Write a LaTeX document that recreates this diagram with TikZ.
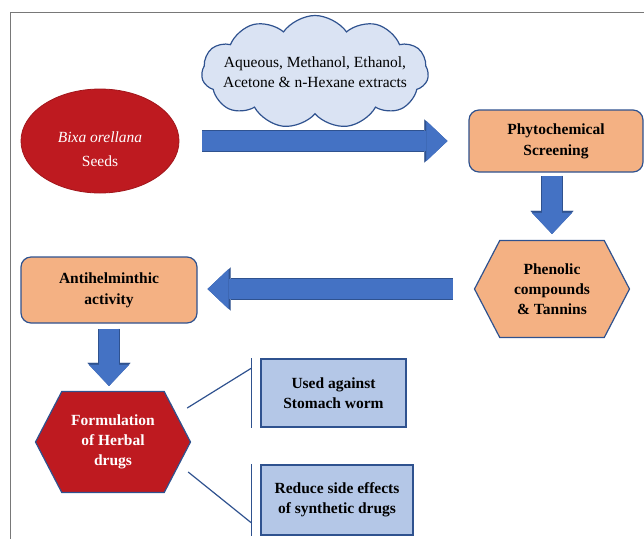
\documentclass[tikz,border=0pt]{standalone}
\usepackage{fontspec}
\setmainfont{Liberation Serif}
\usetikzlibrary{positioning, calc, shapes.geometric, shapes.symbols, arrows.meta}
\definecolor{edgeblue}{RGB}{47,82,143}
\definecolor{arrowfill}{RGB}{68,114,196}
\definecolor{cloudfill}{RGB}{218,227,243}
\definecolor{seedred}{RGB}{190,26,32}
\definecolor{boxorange}{RGB}{244,177,131}
\definecolor{useblue}{RGB}{180,199,231}
\definecolor{framegray}{RGB}{120,120,120}
\tikzstyle{BlockArrow} = [
%Create block arrow style:
line width=20pt, draw=arrowfill,
-{Triangle[width=40pt, length=21pt, line width=0.1pt]},
preaction = {draw=edgeblue, line width=22pt, -{Triangle[width=43pt, length=23pt, line width=0.1pt]}}
]

\begin{document}
\begin{tikzpicture}[x=1pt, y=-1pt,
      every node/.style = {font=\fontsize{15.5}{20}\selectfont, align=center},
      cloudnode/.style = {cloud, cloud puffs=11, cloud puff arc=110, cloud ignores aspect, draw=edgeblue, line width=1.2pt, fill=cloudfill, minimum width=227pt, minimum height=113pt, inner xsep=-30pt, inner ysep=-15pt},
      seednode/.style = {ellipse, fill=seedred, draw=seedred!85!black, line width=0.8pt, text=white, minimum width=158pt, minimum height=104pt},
      stepbox/.style = {rectangle, rounded corners=10pt, draw=edgeblue, line width=1.2pt, fill=boxorange, font=\bfseries\fontsize{15.5}{21}\selectfont},
      hexnode/.style = {signal, signal to=east and west, signal pointer angle=125, draw=edgeblue, line width=1.2pt, inner sep=0pt, font=\bfseries\fontsize{15.5}{20}\selectfont},
      usebox/.style = {rectangle, draw=edgeblue, line width=1.5pt, fill=useblue, font=\bfseries\fontsize{15.5}{20}\selectfont},
      bracket/.style = {draw=edgeblue, line width=1.2pt},
    ]
    \useasboundingbox (0,0) rectangle (644,539);
    \draw[framegray, line width=1pt] (644,12) -- (10,12) -- (10,539);

    \node[cloudnode] (solvent) at (315,72) {Aqueous, Methanol, Ethanol,\\Acetone \& n-Hexane extracts};
    \node[seednode] (seeds) at (100,141) {\rule{0pt}{27pt}\textit{Bixa orellana}\\[4pt]Seeds};
    \node[stepbox, minimum width=174pt, minimum height=62pt] (screen) at (556,141) {Phytochemical\\Screening};
    \node[hexnode, fill=boxorange, minimum width=155pt, minimum height=97pt] (phenol) at (552,289) {Phenolic\\compounds\\\& Tannins};
    \node[stepbox, minimum width=176pt, minimum height=66pt] (anthel) at (109,290) {Antihelminthic\\activity};
    \node[hexnode, fill=seedred, text=white, minimum width=155pt, minimum height=101pt] (herbal) at (113,442) {Formulation\\of Herbal\\drugs};
    \node[usebox, minimum width=145pt, minimum height=68pt] (worm) at (333.5,393) {Used against\\Stomach worm};
    \node[usebox, minimum width=152pt, minimum height=70pt] (sidefx) at (337,500) {Reduce side effects\\of synthetic drugs};

    \draw[BlockArrow, shorten <=23pt, shorten >=21pt] (seeds) -- (screen);
    \draw[BlockArrow, shorten <=3pt, shorten >=6pt] (screen.south -| phenol.north) -- (phenol.north);
    \draw[BlockArrow, shorten <=21pt, shorten >=10pt] (phenol.west) -- (phenol.west -| anthel.east);
    \draw[BlockArrow, shorten <=5pt, shorten >=5pt] (anthel.south) -- (anthel.south |- herbal.north);

    \draw[bracket] ([xshift=-9pt]worm.north west) -- ([xshift=-9pt]worm.south west);
    \draw[bracket] ([xshift=-9pt]sidefx.north west) -- ([xshift=-9pt]sidefx.south west);
    \draw[bracket] ([xshift=-4pt, yshift=34pt]herbal.east) -- ([xshift=-9pt, yshift=-10pt]worm.north west);
    \draw[bracket] ([xshift=-3pt, yshift=-30pt]herbal.east) -- ([xshift=-9pt, yshift=13pt]sidefx.south west);
\end{tikzpicture}
\end{document}
